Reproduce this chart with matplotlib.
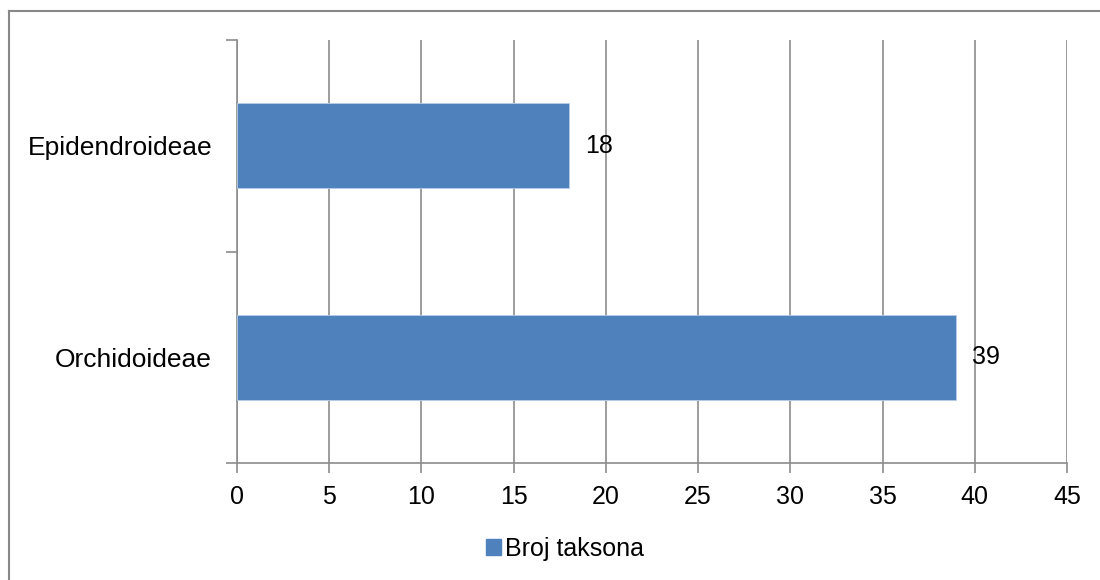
import matplotlib
matplotlib.use("Agg")
import matplotlib.pyplot as plt
from matplotlib.lines import Line2D
from matplotlib.patches import Patch

# data
categories = ["Orchidoideae", "Epidendroideae"]
values = [39, 18]
series_name = "Broj taksona"
x_ticks = [0, 5, 10, 15, 20, 25, 30, 35, 40, 45]

bar_color = "#4F81BD"
grid_color = "#8C8C8C"
fs = 18

plt.rcParams["font.family"] = ["Liberation Sans", "DejaVu Sans"]

fig = plt.figure(figsize=(11, 5.8), dpi=100)
ax = fig.add_axes([237 / 1100, 1 - 463 / 580, (1067 - 237) / 1100, (463 - 40) / 580])

pos = list(range(len(categories)))
bars = ax.barh(pos, values, height=0.4, color=bar_color, edgecolor="#B9CDE5",
               linewidth=0.6, zorder=3)

for b, v in zip(bars, values):
    ax.text(b.get_width() + 0.85, b.get_y() + b.get_height() / 2, str(v),
            va="center", ha="left", fontsize=fs, zorder=4)

ax.set_xlim(0, 45)
ax.set_ylim(-0.5, 1.5)
ax.set_xticks(x_ticks)
ax.set_xticklabels([str(t) for t in x_ticks], fontsize=fs)
ax.set_yticks(pos)
ax.set_yticklabels(categories, fontsize=19)
ax.tick_params(axis="y", length=0, pad=18)
ax.tick_params(axis="x", length=7, width=1.2, color=grid_color, pad=9)

# category boundary ticks on the left
ax.set_yticks([-0.5, 0.5, 1.5], minor=True)
ax.tick_params(axis="y", which="minor", length=8, width=1.2, color=grid_color)

ax.grid(axis="x", color=grid_color, linewidth=1.2, zorder=0)
for s in ["top", "right"]:
    ax.spines[s].set_visible(False)
ax.spines["left"].set_color(grid_color)
ax.spines["left"].set_linewidth(1.2)
ax.spines["bottom"].set_color(grid_color)
ax.spines["bottom"].set_linewidth(1.2)
ax.set_axisbelow(True)

# legend
handle = Patch(facecolor=bar_color, edgecolor=bar_color)
fig.legend([handle], [series_name], loc="center", bbox_to_anchor=(565 / 1100, 1 - 549 / 580),
           frameon=False, fontsize=fs, handlelength=0.6, handleheight=0.6,
           handletextpad=0.15, borderaxespad=0)

# outer chart border (left and top visible)
fig.add_artist(Line2D([8.5 / 1100, 8.5 / 1100], [0, 1 - 11 / 580], color="#888888", linewidth=1.5))
fig.add_artist(Line2D([8.5 / 1100, 1], [1 - 11 / 580, 1 - 11 / 580], color="#888888", linewidth=1.5))

fig.savefig("out.png", dpi=100)
